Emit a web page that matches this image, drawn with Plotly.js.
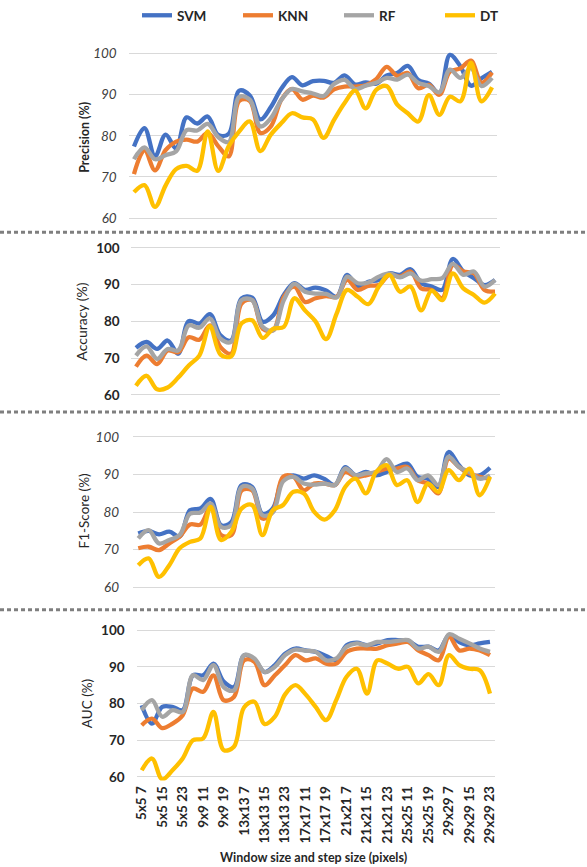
<!DOCTYPE html>
<html><head><meta charset="utf-8">
<script src="https://cdn.plot.ly/plotly-3.0.1.min.js"></script>
<style>html,body{margin:0;padding:0;background:#fff}#chart{width:587px;height:867px}</style>
</head><body><div id="chart"></div>
<script>
const categories = ['5x5 7','5x5 11','5x5 15','5x5 19','5x5 23',
  '9x9 7','9x9 11','9x9 15','9x9 19','9x9 23',
  '13x13 7','13x13 11','13x13 15','13x13 19','13x13 23',
  '17x17 7','17x17 11','17x17 15','17x17 19','17x17 23',
  '21x21 7','21x21 11','21x21 15','21x21 19','21x21 23',
  '25x25 7','25x25 11','25x25 15','25x25 19','25x25 23',
  '29x29 7','29x29 11','29x29 15','29x29 19','29x29 23'];
const tickLabels = ['5x5 7','5x5 15','5x5 23','9x9 11','9x9 19','13x13 7','13x13 15','13x13 23',
  '17x17 11','17x17 19','21x21 7','21x21 15','21x21 23','25x25 11','25x25 19','29x29 7','29x29 15','29x29 23'];
const seriesNames = ['SVM','KNN','RF','DT'];
const seriesColors = ['#4472C4','#ED7D31','#A5A5A5','#FFC000'];

const precisionSVM = [77.4,81.9,75.0,80.3,77.0,84.5,83.0,84.7,80.2,80.5,91.0,89.8,84.0,87.0,91.5,94.3,92.3,93.3,93.4,92.9,94.7,92.5,93.0,92.7,94.7,95.3,97.0,93.6,92.7,90.4,99.7,96.9,92.2,94.0,95.6];
const precisionKNN = [70.7,76.5,71.6,76.5,78.6,79.1,78.6,80.7,77.5,75.0,88.5,88.5,80.7,82.3,88.8,91.4,88.8,89.8,89.3,91.3,92.0,92.0,92.3,93.8,96.8,94.6,95.3,91.6,92.4,90.0,95.6,96.4,98.3,92.9,95.4];
const precisionRF  = [74.3,77.2,74.3,75.3,76.2,81.4,81.3,82.9,79.7,78.5,89.5,88.8,82.3,84.3,88.8,91.4,90.8,90.3,89.7,92.6,93.6,91.4,92.2,92.9,94.1,93.7,94.9,92.9,92.1,90.6,96.1,94.1,96.5,92.1,94.1];
const precisionDT  = [66.3,68.0,62.7,67.9,71.9,72.7,71.5,81.1,71.5,77.5,81.1,83.5,76.3,80.3,83.1,85.5,84.5,84.0,79.5,83.9,88.0,91.0,86.7,91.2,92.1,87.6,85.5,83.5,89.9,85.1,89.5,88.4,97.8,88.4,91.8];

const accuracySVM = [72.8,74.4,72.5,74.8,71.2,80.1,79.4,82.0,76.2,74.8,86.3,86.5,79.9,81.7,87.2,90.4,88.6,89.2,88.4,86.7,92.7,89.5,90.8,91.3,93.1,92.7,94.2,90.4,89.5,88.6,97.0,93.6,91.8,89.9,91.3];
const accuracyKNN = [67.7,70.7,68.4,72.1,71.6,75.7,75.0,78.9,73.0,71.2,84.9,85.8,78.0,77.6,86.7,89.5,85.3,86.3,86.9,86.7,91.3,88.6,89.7,89.9,92.7,92.2,93.6,89.0,88.6,86.3,95.4,93.6,93.1,88.6,88.1];
const accuracyRF  = [70.7,73.2,69.8,72.5,72.1,78.9,78.3,80.8,75.3,74.4,85.8,85.8,78.5,77.6,85.8,90.2,88.1,87.6,87.5,86.5,92.2,90.4,90.6,92.2,93.1,92.0,93.1,91.1,91.5,91.8,95.7,92.7,93.6,89.5,91.3];
const accuracyDT  = [62.5,65.2,61.5,62.0,64.7,68.0,70.7,78.7,71.0,70.5,79.5,80.3,75.5,78.0,78.5,86.3,83.0,80.0,75.2,82.1,88.6,86.7,84.7,89.5,92.7,88.1,89.5,83.0,88.4,85.8,93.1,89.0,87.2,85.1,87.6];

const f1SVM = [74.3,75.0,74.1,74.8,73.5,80.5,81.0,83.5,76.5,77.4,87.2,86.7,79.6,81.0,88.9,89.8,88.9,89.8,88.8,87.2,92.0,89.8,90.7,89.8,90.7,92.0,92.9,89.4,88.9,86.7,96.0,92.5,89.8,89.8,91.8];
const f1KNN = [70.4,70.8,69.9,71.7,73.5,76.7,76.7,81.4,73.9,73.9,85.8,85.8,78.3,80.1,89.4,89.4,85.8,87.6,87.6,87.2,90.7,89.4,89.8,90.7,91.6,91.6,92.0,88.5,87.6,85.0,94.2,92.0,90.3,89.4,88.9];
const f1RF  = [73.0,75.2,71.7,72.6,73.9,79.6,79.9,82.3,76.1,76.5,86.7,86.3,79.2,79.9,88.2,89.4,87.6,87.3,87.6,87.2,91.6,89.8,90.3,90.7,94.1,90.7,91.6,88.5,89.8,87.2,94.7,92.0,90.7,88.9,89.8];
const f1DT  = [65.9,67.7,62.8,65.9,70.4,72.1,73.0,81.4,72.6,74.8,81.0,81.9,73.9,80.5,81.9,85.4,85.0,80.1,78.0,80.5,86.7,88.9,85.0,90.7,92.5,87.2,88.5,82.7,87.6,85.4,91.2,88.5,91.6,84.5,89.4];

const aucSVM = [79.5,74.5,79.1,79.1,78.2,87.7,87.7,90.9,86.0,84.5,93.2,92.0,88.6,90.5,93.6,95.0,94.5,94.1,93.0,91.8,95.9,96.6,95.9,96.4,97.3,97.3,97.1,95.5,95.5,94.5,98.6,96.8,95.9,96.4,96.8];
const aucKNN = [74.1,75.9,73.3,74.5,76.8,84.1,83.2,87.7,80.9,81.8,91.8,91.4,85.0,87.7,90.5,93.2,91.8,92.3,90.9,90.9,94.1,95.0,95.0,95.0,95.9,96.4,96.8,94.5,93.2,91.8,98.2,94.5,95.0,94.5,93.2];
const aucRF  = [78.2,80.9,76.4,78.2,77.7,87.7,86.4,90.5,84.5,83.6,93.2,92.3,88.6,90.0,93.2,94.7,94.4,94.1,91.8,92.3,95.5,96.4,95.9,96.8,96.8,97.1,97.3,95.0,95.5,94.1,98.9,97.7,96.4,95.0,94.1];
const aucDT  = [61.8,65.0,59.3,61.8,65.0,70.0,70.5,77.7,67.3,68.2,79.0,80.5,74.4,76.4,82.5,85.0,82.5,79.0,75.5,81.0,87.3,89.5,82.7,91.8,90.9,89.5,90.0,85.5,88.0,85.0,93.2,90.5,89.5,89.1,82.7];

const panels = [
  {title:'Precision (%)', data:[precisionSVM,precisionKNN,precisionRF,precisionDT]},
  {title:'Accuracy (%)',  data:[accuracySVM,accuracyKNN,accuracyRF,accuracyDT]},
  {title:'F1-Score (%)',  data:[f1SVM,f1KNN,f1RF,f1DT]},
  {title:'AUC (%)',       data:[aucSVM,aucKNN,aucRF,aucDT]}
];

const W = 587, H = 867;
const geom = [
  {x0:128.7, x1:497.3, y0:48.6,  y1:221.4, italic:true,  bold:false, standoff:11, tx:85, ty:137, tbold:true,  tsize:12.5},
  {x0:130.7, x1:500.3, y0:243.6, y1:398.0, italic:false, bold:true,  standoff:10, tx:82, ty:321, tbold:false, tsize:14},
  {x0:133.1, x1:495.2, y0:432.7, y1:590.8, italic:true,  bold:false, standoff:13, tx:84, ty:511, tbold:false, tsize:13.5},
  {x0:136.6, x1:495.1, y0:626.3, y1:780.4, italic:false, bold:true,  standoff:11, tx:87, ty:704, tbold:false, tsize:13.5}
];

const FONT = 'Lato, "Open Sans", sans-serif';
const traces = [];
const layout = {
  width: W, height: H,
  margin: {l:0, r:0, t:0, b:0},
  paper_bgcolor: '#fff', plot_bgcolor: '#fff',
  font: {family: FONT, color: '#404040'},
  showlegend: true,
  legend: {orientation:'h', x:137/W, xanchor:'left', y:1-15/H, yanchor:'middle',
    font:{family:FONT, size:13.5, weight:700, color:'#262626'},
    entrywidth:56, entrywidthmode:'pixels', itemwidth:30, tracegroupgap:0, bgcolor:'rgba(0,0,0,0)'},
  annotations: [], shapes: []
};

panels.forEach((p, k) => {
  const g = geom[k];
  const xa = k === 0 ? 'x' : 'x' + (k+1);
  const ya = k === 0 ? 'y' : 'y' + (k+1);
  const xKey = k === 0 ? 'xaxis' : 'xaxis' + (k+1);
  const yKey = k === 0 ? 'yaxis' : 'yaxis' + (k+1);
  p.data.forEach((vals, s) => {
    traces.push({
      type:'scatter', mode:'lines', x: categories, y: vals,
      name: seriesNames[s], legendgroup: seriesNames[s], showlegend: k === 0,
      line: {color: seriesColors[s], width: 4.3, shape:'spline', smoothing: 1},
      xaxis: xa, yaxis: ya, hoverinfo:'skip'
    });
  });
  layout[xKey] = {
    type:'category', categoryorder:'array', categoryarray: categories,
    range:[-0.5, 34.5], domain:[g.x0/W, g.x1/W], anchor: ya,
    showgrid:false, zeroline:false, showline:false, ticks:'',
    showticklabels: k === 3,
    tickmode:'array', tickvals: tickLabels, ticktext: tickLabels,
    tickangle:-90, tickfont:{family:FONT, size:13.5, weight:700, color:'#262626'},
    ticklabelstandoff: 2
  };
  layout[yKey] = {
    range:[59, 101], domain:[1 - g.y1/H, 1 - g.y0/H], anchor: xa,
    tickmode:'array', tickvals:[60,70,80,90,100],
    showgrid:true, gridcolor:'#d9d9d9', gridwidth:1,
    zeroline:false, showline:false, ticks:'',
    tickfont:{family:FONT, size:13.5, color: g.bold ? '#262626' : '#404040',
      style: g.italic ? 'italic' : 'normal', weight: g.bold ? 700 : 400},
    ticklabelstandoff: g.standoff
  };
  layout.annotations.push({
    xref:'paper', yref:'paper', x: g.tx/W, y: 1 - g.ty/H, xanchor:'center', yanchor:'middle',
    text: p.title, showarrow:false, textangle:-90,
    font:{family:FONT, size:g.tsize, weight: g.tbold ? 700 : 400, color:'#262626'}
  });
});

layout.annotations.push({
  xref:'paper', yref:'paper', x: 313/W, y: 1 - 857/H, xanchor:'center', yanchor:'middle',
  text:'Window size and step size (pixels)', showarrow:false,
  font:{family:FONT, size:12.5, weight:700, color:'#262626'}
});

[231.5, 411.5, 609.5].forEach(yy => {
  layout.shapes.push({type:'line', xref:'paper', yref:'paper', x0:0, x1:1,
    y0: 1 - yy/H, y1: 1 - yy/H, line:{color:'#7f7f7f', width:3, dash:'4px,3px'}});
});

Plotly.newPlot('chart', traces, layout, {staticPlot:true, displayModeBar:false});
</script></body></html>
